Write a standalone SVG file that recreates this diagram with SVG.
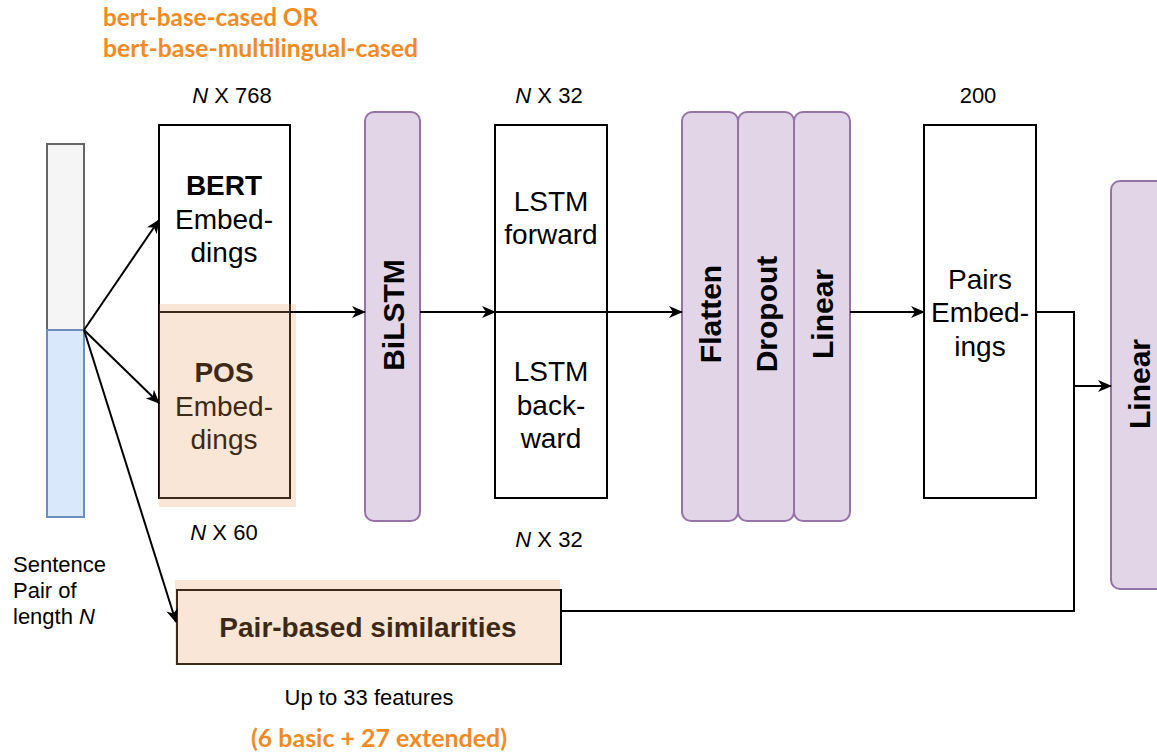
<svg xmlns="http://www.w3.org/2000/svg" width="1157" height="752" viewBox="0 0 1157 752">
<style>
.box{fill:#ffffff;stroke:#000;stroke-width:2}
.layer{fill:#e1d5e7;stroke:#9673a6;stroke-width:2}
.hl{fill:#e8a060;fill-opacity:0.26;stroke:none}
.t{font-family:"Liberation Sans",Arial,sans-serif;font-size:28px;fill:#000;text-anchor:middle}
.b{font-weight:bold}
.rot{font-family:"Liberation Sans",Arial,sans-serif;font-size:30px;font-weight:bold;fill:#000;text-anchor:middle;dominant-baseline:central}
.lbl{font-family:"Liberation Sans",Arial,sans-serif;font-size:22px;fill:#000}
.or{font-family:Lato,"Open Sans",sans-serif;font-size:24px;font-weight:bold;fill:#ef8a25}
.c{fill:none;stroke:#000;stroke-width:2}
</style>
<defs>
<marker id="arr" markerUnits="userSpaceOnUse" markerWidth="14" markerHeight="12" viewBox="0 0 14 12" refX="13" refY="6" orient="auto">
<path d="M0,0 L14,6 L0,12 L4,6 z" fill="#000"/>
</marker>
</defs>

<g id="sentence">
<rect x="47" y="144" width="37" height="186" fill="#f5f5f5" stroke="#666666" stroke-width="2"/>
<rect x="47" y="330" width="37" height="187" fill="#dae8fc" stroke="#6c8ebf" stroke-width="2"/>
<text class="lbl" x="13" y="572">Sentence</text>
<text class="lbl" x="13" y="598">Pair of</text>
<text class="lbl" x="13" y="624">length <tspan font-style="italic">N</tspan></text>
</g>

<g id="model-name">
<text class="or" x="103" y="26" textLength="215" lengthAdjust="spacingAndGlyphs">bert-base-cased OR</text>
<text class="or" x="103" y="57" textLength="315" lengthAdjust="spacingAndGlyphs">bert-base-multilingual-cased</text>
</g>

<g id="bert">
<rect class="box" x="159" y="125" width="131" height="187"/>
<text class="t b" x="224" y="195">BERT</text>
<text class="t" x="224" y="229">Embed-</text>
<text class="t" x="224" y="262">dings</text>
<text class="lbl" x="232" y="103" text-anchor="middle"><tspan font-style="italic">N</tspan> X 768</text>
</g>

<g id="pos">
<rect class="box" x="159" y="312" width="131" height="186"/>
<text class="t b" x="224" y="382">POS</text>
<text class="t" x="224" y="416">Embed-</text>
<text class="t" x="224" y="449">dings</text>
<rect class="hl" x="159" y="304" width="137" height="203"/>
<text class="lbl" x="224" y="540" text-anchor="middle"><tspan font-style="italic">N</tspan> X 60</text>
</g>

<g id="bilstm">
<rect class="layer" x="365" y="112" width="55" height="409" rx="9"/>
<text class="rot" transform="translate(393,315) rotate(-90)">BiLSTM</text>
</g>

<g id="lstm">
<rect class="box" x="495" y="125" width="112" height="187"/>
<rect class="box" x="495" y="312" width="112" height="186"/>
<text class="t" x="551" y="211">LSTM</text>
<text class="t" x="551" y="244">forward</text>
<text class="t" x="551" y="381">LSTM</text>
<text class="t" x="551" y="415">back-</text>
<text class="t" x="551" y="448">ward</text>
<text class="lbl" x="549" y="103" text-anchor="middle"><tspan font-style="italic">N</tspan> X 32</text>
<text class="lbl" x="549" y="547" text-anchor="middle"><tspan font-style="italic">N</tspan> X 32</text>
</g>

<g id="flatten">
<rect class="layer" x="682" y="112" width="56" height="409" rx="9"/>
<text class="rot" transform="translate(710,314) rotate(-90)">Flatten</text>
</g>
<g id="dropout">
<rect class="layer" x="738" y="112" width="56" height="409" rx="9"/>
<text class="rot" transform="translate(766,314) rotate(-90)">Dropout</text>
</g>
<g id="linear1">
<rect class="layer" x="794" y="112" width="56" height="409" rx="9"/>
<text class="rot" transform="translate(822,314) rotate(-90)">Linear</text>
</g>

<g id="pairs">
<rect class="box" x="924" y="125" width="112" height="373"/>
<text class="t" x="980" y="289">Pairs</text>
<text class="t" x="980" y="322">Embed-</text>
<text class="t" x="980" y="356">ings</text>
<text class="lbl" x="978" y="103" text-anchor="middle">200</text>
</g>

<g id="linear2">
<rect class="layer" x="1111" y="181" width="60" height="408" rx="9"/>
<text class="rot" transform="translate(1139,384) rotate(-90)">Linear</text>
</g>

<g id="similarities">
<rect class="box" x="177" y="590" width="384" height="74"/>
<text class="t b" x="368" y="637">Pair-based similarities</text>
<rect class="hl" x="175" y="580" width="385" height="85"/>
<text class="lbl" x="369" y="705" text-anchor="middle">Up to 33 features</text>
<text class="or" x="379" y="747" text-anchor="middle" textLength="256" lengthAdjust="spacingAndGlyphs">(6 basic + 27 extended)</text>
</g>

<g id="connectors">
<path class="c" d="M84,330 L159,220" marker-end="url(#arr)"/>
<path class="c" d="M84,330 L159,403" marker-end="url(#arr)"/>
<path class="c" d="M84,330 L176,622" marker-end="url(#arr)"/>
<path class="c" d="M290,312 L365,312" marker-end="url(#arr)"/>
<path class="c" d="M420,312 L495,312" marker-end="url(#arr)"/>
<path class="c" d="M607,312 L682,312" marker-end="url(#arr)"/>
<path class="c" d="M850,312 L924,312" marker-end="url(#arr)"/>
<path class="c" d="M1036,312 H1074 V386 H1111" marker-end="url(#arr)"/>
<path class="c" d="M561,611 H1074 V386"/>
</g>
</svg>
